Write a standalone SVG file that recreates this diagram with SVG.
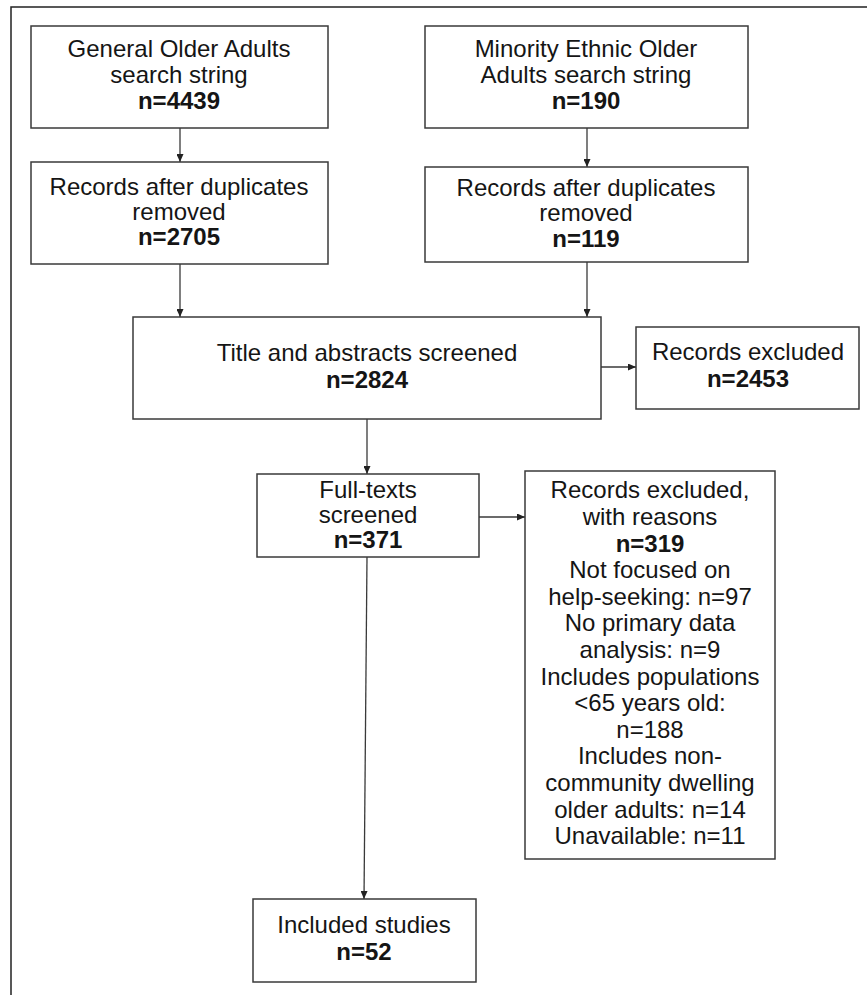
<svg xmlns="http://www.w3.org/2000/svg" width="867" height="995" viewBox="0 0 867 995">
<style>
.box{fill:#fff;stroke:#3a3a3a;stroke-width:1.5}
.t{font-family:"Liberation Sans",Arial,sans-serif;font-size:24px;fill:#151515;text-anchor:middle}
.b{font-weight:bold}
.c{fill:none;stroke:#3a3a3a;stroke-width:1.3}
.frame{fill:none;stroke:#222;stroke-width:1.5}
</style>
<defs>
<marker id="ah" viewBox="0 0 10 10" refX="10" refY="5" markerWidth="8" markerHeight="7" markerUnits="userSpaceOnUse" orient="auto" preserveAspectRatio="none">
<path d="M0,0 L10,5 L0,10 z" fill="#222"/>
</marker>
</defs>
<rect width="867" height="995" fill="#fff"/>
<path class="frame" d="M11,995 L11,7 L867,7"/>
<g id="connectors">
<line class="c" x1="180" y1="128" x2="180" y2="162" marker-end="url(#ah)"/>
<line class="c" x1="587" y1="128" x2="587" y2="167" marker-end="url(#ah)"/>
<line class="c" x1="180" y1="264" x2="180" y2="317" marker-end="url(#ah)"/>
<line class="c" x1="587" y1="262" x2="587" y2="317" marker-end="url(#ah)"/>
<line class="c" x1="601" y1="367" x2="636" y2="367" marker-end="url(#ah)"/>
<line class="c" x1="367" y1="419" x2="367" y2="474" marker-end="url(#ah)"/>
<line class="c" x1="479" y1="517" x2="525" y2="517" marker-end="url(#ah)"/>
<line class="c" x1="367" y1="557" x2="364" y2="899" marker-end="url(#ah)"/>
</g>
<g id="general">
<rect class="box" x="31" y="26" width="297" height="102"/>
<text class="t" x="179" y="57">General Older Adults</text>
<text class="t" x="179" y="83">search string</text>
<text class="t b" x="179" y="109">n=4439</text>
</g>
<g id="minority">
<rect class="box" x="425" y="26" width="323" height="102"/>
<text class="t" x="586" y="57">Minority Ethnic Older</text>
<text class="t" x="586" y="83">Adults search string</text>
<text class="t b" x="586" y="109">n=190</text>
</g>
<g id="dup-general">
<rect class="box" x="31" y="162" width="297" height="102"/>
<text class="t" x="179" y="195">Records after duplicates</text>
<text class="t" x="179" y="220">removed</text>
<text class="t b" x="179" y="245">n=2705</text>
</g>
<g id="dup-minority">
<rect class="box" x="425" y="167" width="323" height="95"/>
<text class="t" x="586" y="196">Records after duplicates</text>
<text class="t" x="586" y="221">removed</text>
<text class="t b" x="586" y="247">n=119</text>
</g>
<g id="title-screen">
<rect class="box" x="133" y="317" width="468" height="102"/>
<text class="t" x="367" y="361">Title and abstracts screened</text>
<text class="t b" x="367" y="388">n=2824</text>
</g>
<g id="excluded1">
<rect class="box" x="636" y="327" width="223" height="82"/>
<text class="t" x="748" y="360">Records excluded</text>
<text class="t b" x="748" y="387">n=2453</text>
</g>
<g id="fulltext">
<rect class="box" x="257" y="474" width="222" height="83"/>
<text class="t" x="368" y="498">Full-texts</text>
<text class="t" x="368" y="523">screened</text>
<text class="t b" x="368" y="548">n=371</text>
</g>
<g id="excluded2">
<rect class="box" x="525" y="471" width="250" height="388"/>
<text class="t" x="650" y="498">Records excluded,</text>
<text class="t" x="650" y="525">with reasons</text>
<text class="t b" x="650" y="551.6">n=319</text>
<text class="t" x="650" y="578.2">Not focused on</text>
<text class="t" x="650" y="604.8">help-seeking: n=97</text>
<text class="t" x="650" y="631.4">No primary data</text>
<text class="t" x="650" y="658">analysis: n=9</text>
<text class="t" x="650" y="684.6">Includes populations</text>
<text class="t" x="650" y="711.2">&lt;65 years old:</text>
<text class="t" x="650" y="737.8">n=188</text>
<text class="t" x="650" y="764.4">Includes non-</text>
<text class="t" x="650" y="791">community dwelling</text>
<text class="t" x="650" y="817.6">older adults: n=14</text>
<text class="t" x="650" y="844.2">Unavailable: n=11</text>
</g>
<g id="included">
<rect class="box" x="253" y="899" width="223" height="83"/>
<text class="t" x="364" y="933">Included studies</text>
<text class="t b" x="364" y="960">n=52</text>
</g>
</svg>
